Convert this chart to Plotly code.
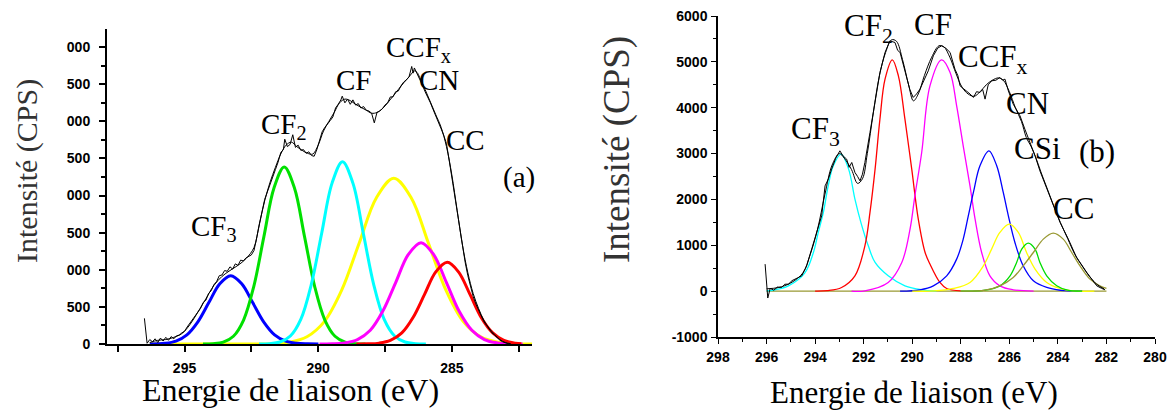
import plotly.graph_objects as go

W, H = 1171, 410
def px(x): return x / W
def py(y): return 1 - y / H

# ---------------- Panel (a) data ----------------
a_blue_x = [296.30, 295.73, 295.32, 294.91, 294.50, 294.09, 293.68, 293.27, 292.86, 292.45, 292.04, 291.63, 291.22, 290.81, 290.40, 289.99]
a_blue_y = [0, 10, 40, 124, 299, 558, 812, 920, 812, 558, 299, 124, 40, 10, 2, 0]
a_green_x = [294.31, 293.93, 293.55, 293.17, 292.79, 292.41, 292.03, 291.65, 291.27, 290.89, 290.51, 290.13, 289.75, 289.37, 288.99, 288.61, 288.23]
a_green_y = [1, 5, 26, 105, 323, 774, 1447, 2105, 2385, 2105, 1447, 774, 323, 105, 26, 5, 1]
a_cyan_x = [292.21, 291.82, 291.43, 291.04, 290.65, 290.26, 289.87, 289.48, 289.09, 288.70, 288.31, 287.92, 287.53, 287.14, 286.75, 286.36, 285.97]
a_cyan_y = [1, 5, 27, 108, 332, 798, 1490, 2168, 2457, 2168, 1490, 798, 332, 108, 27, 5, 1]
a_yellow_x = [296.30, 293.00, 292.37, 291.72, 291.07, 290.42, 289.77, 289.12, 288.47, 287.82, 287.17, 286.52, 285.87, 285.22, 284.57, 283.92, 283.27, 282.62, 281.97]
a_yellow_y = [0, 0, 1, 5, 25, 98, 302, 725, 1354, 1971, 2233, 1971, 1354, 725, 302, 98, 25, 5, 1]
a_magenta_x = [289.95, 289.48, 289.00, 288.53, 288.05, 287.58, 287.10, 286.63, 286.15, 285.68, 285.20, 284.73, 284.25, 283.78, 283.30, 282.83, 282.35]
a_magenta_y = [0, 3, 15, 60, 185, 444, 828, 1205, 1366, 1205, 828, 444, 185, 60, 15, 3, 0]
a_red_x = [288.57, 288.15, 287.72, 287.30, 286.87, 286.45, 286.02, 285.60, 285.17, 284.75, 284.32, 283.90, 283.47, 283.05, 282.62, 282.40]
a_red_y = [0, 2, 12, 48, 149, 357, 668, 972, 1101, 972, 668, 357, 149, 48, 12, 4]

a_data_x = [296.50, 296.40, 296.30, 296.20, 296.10, 296.00, 295.90, 295.80, 295.70, 295.60, 295.50, 295.40, 295.30, 295.20, 295.10, 295.00,
            294.90, 294.80, 294.70, 294.60, 294.50, 294.40, 294.30, 294.20, 294.10, 294.00, 293.90, 293.80, 293.70, 293.60, 293.50, 293.40,
            293.30, 293.20, 293.10, 293.00, 292.90, 292.80, 292.70, 292.60, 292.50, 292.40, 292.30, 292.20, 292.10, 292.00, 291.90, 291.80,
            291.70, 291.60, 291.50, 291.40, 291.30, 291.25, 291.15, 291.05, 290.95, 290.85, 290.75, 290.65, 290.55, 290.45, 290.35, 290.25,
            290.15, 290.05, 289.95, 289.85, 289.75, 289.65, 289.55, 289.45, 289.35, 289.25, 289.15, 289.10, 289.00, 288.90, 288.80, 288.70,
            288.60, 288.50, 288.40, 288.30, 288.20, 288.10, 288.00, 287.90, 287.80, 287.70, 287.60, 287.50, 287.40, 287.30, 287.20, 287.10,
            287.00, 286.90, 286.80, 286.70, 286.60, 286.50, 286.45, 286.40, 286.30, 286.20, 286.10, 286.00, 285.90, 285.80, 285.70, 285.60,
            285.50, 285.40, 285.30, 285.20, 285.10, 285.00, 284.90, 284.80, 284.70, 284.60, 284.50, 284.40, 284.30, 284.20, 284.10, 284.00,
            283.90, 283.80, 283.70, 283.60, 283.50, 283.40, 283.30, 283.20, 283.10, 283.00, 282.90, 282.80]
a_data_y = [346, 10, 60, 30, 70, 20, 80, 40, 90, 50, 100, 70, 110, 120, 150, 170,
            230, 280, 330, 380, 440, 480, 560, 590, 680, 720, 800, 840, 920, 930, 990, 980,
            1040, 1010, 1080, 1060, 1130, 1120, 1160, 1180, 1200, 1260, 1420, 1600, 1780, 1950, 2060, 2150,
            2250, 2350, 2450, 2580, 2620, 2760, 2660, 2690, 2820, 2650, 2680, 2610, 2620, 2570, 2590, 2540,
            2530, 2620, 2750, 2860, 2920, 2960, 3010, 3060, 3180, 3230, 3290, 3340, 3250, 3300, 3230, 3290,
            3220, 3240, 3180, 3200, 3150, 3140, 3110, 2980, 3120, 3140, 3170, 3220, 3250, 3330, 3330, 3400,
            3410, 3480, 3530, 3560, 3600, 3740, 3650, 3720, 3650, 3560, 3490, 3400, 3330, 3250, 3160, 3080,
            2990, 2900, 2810, 2700, 2480, 2250, 2000, 1750, 1520, 1300, 1100, 920, 770, 640, 540, 460,
            370, 300, 250, 200, 150, 120, 80, 50, 30, 15, 5, 0]

a_env_x = [296.3, 296.0, 295.7, 295.4, 295.1, 294.8, 294.5, 294.2, 293.9, 293.6, 293.3, 293.0, 292.7, 292.4, 292.2, 292.0, 291.8,
           291.6, 291.4, 291.2, 291.0, 290.8, 290.6, 290.4, 290.2, 290.0, 289.8, 289.6, 289.4, 289.2, 289.0, 288.8, 288.6, 288.4,
           288.2, 288.0, 287.8, 287.6, 287.4, 287.2, 287.0, 286.8, 286.6, 286.4, 286.3, 286.2, 286.0, 285.8, 285.6, 285.4, 285.2,
           285.0, 284.8, 284.6, 284.4, 284.2, 284.0, 283.8, 283.6, 283.4, 283.2, 283.0, 282.8]
a_env_y = [20, 50, 60, 90, 140, 260, 430, 610, 790, 910, 990, 1060, 1150, 1300, 1620, 1930, 2180,
           2380, 2560, 2680, 2720, 2660, 2610, 2570, 2560, 2680, 2870, 3000, 3120, 3250, 3300, 3280, 3230, 3190,
           3150, 3110, 3120, 3170, 3250, 3340, 3430, 3520, 3600, 3680, 3660, 3590, 3430, 3260, 3090, 2920, 2660,
           2280, 1800, 1330, 960, 680, 480, 320, 210, 130, 60, 20, 5]

a_xticks = [295, 290, 285]
a_xminor = [297.5, 292.5, 287.5, 282.5]
a_yticks = [0, 500, 1000, 1500, 2000, 2500, 3000, 3500, 4000]
a_ytext = ["0", "500", "000", "500", "000", "500", "000", "500", "000"]

# ---------------- Panel (b) data ----------------
b_base_x = [296.0, 282.0]
b_base_y = [0, 0]
b_cyan_x = [296.0, 295.65, 295.1, 294.42, 294.07, 293.87, 293.66, 293.46, 293.25, 292.93, 292.62, 292.36, 292.11, 291.81, 291.53, 290.99, 290.30, 289.61, 289.0]
b_cyan_y = [5, 30, 116, 400, 843, 1280, 1716, 2296, 2733, 2990, 2660, 2006, 1490, 988, 625, 334, 116, 30, 5]
b_red_x = [294.0, 293.5, 292.91, 292.36, 291.95, 291.74, 291.53, 291.33, 291.12, 290.82, 290.57, 290.30, 290.02, 289.75, 289.47, 289.27, 288.86, 288.58, 288.0]
b_red_y = [0, 10, 80, 334, 988, 1716, 2660, 3750, 4623, 5044, 4695, 3750, 2660, 1570, 843, 590, 190, 58, 5]
b_magenta_x = [292.5, 291.95, 290.99, 290.43, 290.09, 289.89, 289.61, 289.27, 288.79, 288.44, 288.17, 287.90, 287.62, 287.41, 287.14, 286.80, 286.39, 285.84, 285.0]
b_magenta_y = [0, 7, 190, 625, 1352, 2078, 3024, 4477, 5044, 4768, 4042, 3169, 2296, 1570, 843, 334, 116, 30, 0]
b_blue_x = [290.5, 289.68, 289.13, 288.58, 288.17, 287.90, 287.69, 287.48, 287.21, 286.84, 286.52, 286.25, 286.04, 285.77, 285.43, 285.01, 284.46, 283.9, 283.0]
b_blue_y = [0, 30, 116, 334, 698, 1134, 1642, 2152, 2733, 3060, 2733, 2152, 1642, 1062, 552, 225, 80, 20, 0]
b_yellow_x = [290.0, 289.1, 288.31, 287.62, 287.07, 286.73, 286.39, 286.0, 285.63, 285.29, 284.94, 284.46, 283.91, 283.4, 282.5]
b_yellow_y = [0, 5, 58, 190, 552, 916, 1280, 1461, 1280, 843, 480, 190, 58, 5, 0]
b_green_x = [288.0, 287.0, 286.39, 285.97, 285.70, 285.49, 285.22, 284.94, 284.74, 284.46, 284.05, 283.6, 283.0]
b_green_y = [0, 20, 116, 334, 625, 916, 1047, 916, 625, 334, 116, 20, 0]
b_olive_x = [288.0, 287.0, 286.39, 285.84, 285.43, 285.01, 284.60, 284.19, 283.78, 283.43, 283.09, 282.68, 282.27, 282.0]
b_olive_y = [0, 20, 116, 298, 552, 843, 1134, 1265, 1134, 843, 552, 262, 116, 60]

b_data_x = [296.06, 295.95, 295.85, 295.70, 295.55, 295.38, 295.25, 295.10, 294.95, 294.83, 294.70, 294.55, 294.35, 294.14, 293.93,
            293.73, 293.59, 293.45, 293.32, 293.15, 292.98, 292.85, 292.70, 292.60, 292.49, 292.36, 292.25, 292.15, 292.05, 291.95,
            291.74, 291.53, 291.33, 291.12, 290.92, 290.71, 290.60, 290.50, 290.23, 290.10, 289.96, 289.82, 289.68, 289.50, 289.34,
            289.13, 288.95, 288.79, 288.62, 288.44, 288.24, 288.12, 288.03, 287.90, 287.76, 287.62, 287.48, 287.35, 287.21, 287.10,
            287.00, 286.87, 286.73, 286.55, 286.39, 286.28, 286.18, 286.04, 285.84, 285.70, 285.56, 285.36, 285.15, 284.94, 284.74,
            284.53, 284.26, 283.91, 283.57, 283.23, 282.81, 282.60, 282.40, 282.20, 282.06]
b_data_y = [589, -150, 60, 20, 90, 80, 150, 153, 230, 262, 300, 334, 552, 916, 1280,
            1642, 2296, 2450, 2660, 2900, 3060, 2950, 2878, 2700, 2806, 2588, 2500, 2405, 2550, 2806,
            3460, 4115, 4768, 5205, 5458, 5422, 5250, 5205, 4695, 4400, 4224, 4300, 4405, 4620, 4804,
            5131, 5300, 5349, 5300, 5205, 4841, 4700, 4477, 4420, 4368, 4300, 4224, 4350, 4332, 4400,
            4187, 4500, 4586, 4600, 4660, 4600, 4623, 4368, 4077, 3950, 3823, 3533, 3242, 2950, 2623,
            2333, 1969, 1498, 1134, 735, 408, 250, 116, 60, 30]

b_env_x = [296.0, 295.5, 295.0, 294.5, 294.2, 293.9, 293.6, 293.3, 293.0, 292.8, 292.5, 292.25, 292.05, 291.85, 291.6, 291.35, 291.1,
           290.85, 290.65, 290.4, 290.15, 289.95, 289.75, 289.5, 289.2, 288.9, 288.7, 288.45, 288.2, 287.95, 287.7, 287.45, 287.2,
           286.95, 286.7, 286.45, 286.25, 286.0, 285.75, 285.5, 285.3, 285.1, 284.9, 284.7, 284.45, 284.2, 283.9, 283.6, 283.3,
           283.0, 282.7, 282.4, 282.1]
b_env_y = [50, 80, 180, 400, 800, 1350, 2100, 2750, 3000, 2900, 2650, 2350, 2450, 3000, 3900, 4700, 5200,
           5480, 5450, 5050, 4500, 4150, 4300, 4700, 5100, 5350, 5330, 5100, 4750, 4450, 4300, 4250, 4350,
           4500, 4600, 4650, 4600, 4350, 4000, 3700, 3350, 3150, 2900, 2600, 2250, 1900, 1500, 1150, 800,
           550, 320, 150, 50]

b_xticks = [298, 296, 294, 292, 290, 288, 286, 284, 282, 280]
b_xminor = [297, 295, 293, 291, 289, 287, 285, 283, 281]
b_yticks = [-1000, 0, 1000, 2000, 3000, 4000, 5000, 6000]
b_yminor = [-500, 500, 1500, 2500, 3500, 4500, 5500]

fig = go.Figure()

def add(xs, ys, color, width, xa, ya, shape='spline'):
    fig.add_trace(go.Scatter(x=xs, y=ys, mode='lines',
                             line=dict(color=color, width=width, shape=shape),
                             xaxis=xa, yaxis=ya, showlegend=False, hoverinfo='skip'))

# panel (a)
add(a_yellow_x, a_yellow_y, '#ffff00', 3, 'x', 'y')
add(a_blue_x, a_blue_y, '#0000ff', 3, 'x', 'y')
add(a_green_x, a_green_y, '#00e000', 3, 'x', 'y')
add(a_cyan_x, a_cyan_y, '#00ffff', 3, 'x', 'y')
add(a_magenta_x, a_magenta_y, '#ff00ff', 3, 'x', 'y')
add(a_red_x, a_red_y, '#ff0000', 3, 'x', 'y')
add(a_env_x, a_env_y, '#000000', 1, 'x', 'y')
add(a_data_x, a_data_y, '#000000', 1, 'x', 'y', 'linear')

# panel (b)
add(b_base_x, b_base_y, '#999933', 1.3, 'x2', 'y2', 'linear')
add(b_cyan_x, b_cyan_y, '#00ffff', 1.3, 'x2', 'y2')
add(b_red_x, b_red_y, '#ff0000', 1.3, 'x2', 'y2')
add(b_magenta_x, b_magenta_y, '#ff00ff', 1.3, 'x2', 'y2')
add(b_blue_x, b_blue_y, '#0000ff', 1.3, 'x2', 'y2')
add(b_yellow_x, b_yellow_y, '#ffff00', 1.3, 'x2', 'y2')
add(b_green_x, b_green_y, '#00dd00', 1.3, 'x2', 'y2')
add(b_olive_x, b_olive_y, '#999933', 1.3, 'x2', 'y2')
add(b_env_x, b_env_y, '#000000', 1, 'x2', 'y2')
add(b_data_x, b_data_y, '#000000', 1, 'x2', 'y2', 'linear')

tickfont = dict(family='Liberation Sans', size=14, color='black', weight='bold')
common = dict(showgrid=False, zeroline=False, showline=True, linecolor='black', automargin=False,
              ticks='outside', tickcolor='black', tickfont=tickfont)

fig.update_layout(
    width=W, height=H, margin=dict(l=0, r=0, t=0, b=0, autoexpand=False),
    paper_bgcolor='white', plot_bgcolor='white',
    xaxis=dict(domain=[px(107), px(532)], range=[297.9, 282.0], anchor='y',
               tickvals=a_xticks, ticktext=[str(v) for v in a_xticks], ticklen=6, tickwidth=1.5,
               linewidth=2, ticklabelstandoff=4,
               minor=dict(tickvals=a_xminor, ticklen=6, tickwidth=1.5, tickcolor='black', ticks='outside'),
               **common),
    yaxis=dict(domain=[py(344), py(29)], range=[0, 4245], anchor='x',
               tickvals=a_yticks, ticktext=a_ytext, ticklen=6, tickwidth=1.5, linewidth=2,
               ticklabelstandoff=6,
               minor=dict(tickvals=[v + 250 for v in a_yticks[:-1]], ticklen=4, tickwidth=1.5,
                          tickcolor='black', ticks='outside'),
               **common),
    xaxis2=dict(domain=[px(718), px(1155)], range=[298, 280], anchor='y2',
                tickvals=b_xticks, ticktext=[str(v) for v in b_xticks], ticklen=5, tickwidth=1.2,
                linewidth=1.5, ticklabelstandoff=1,
                minor=dict(tickvals=b_xminor, ticklen=3, tickwidth=1.2, tickcolor='black', ticks='outside'),
                **common),
    yaxis2=dict(domain=[py(337), py(16)], range=[-1000, 6000], anchor='x2',
                tickvals=b_yticks, ticktext=[str(v) for v in b_yticks], ticklen=5, tickwidth=1.2,
                linewidth=1.5, ticklabelstandoff=1,
                minor=dict(tickvals=b_yminor, ticklen=3, tickwidth=1.2, tickcolor='black', ticks='outside'),
                **common),
)

serif = 'Liberation Serif'
def label(text, x, y, size, xanchor='left', yanchor='middle', angle=0, color='black'):
    fig.add_annotation(text=text, x=px(x), y=py(y), xref='paper', yref='paper',
                       xanchor=xanchor, yanchor=yanchor, showarrow=False, textangle=angle,
                       font=dict(family=serif, size=size, color=color))

# panel (a) labels
label('CF<sub>3</sub>', 189, 228, 29)
label('CF<sub>2</sub>', 259, 126, 29)
label('CF', 334, 80, 29)
label('CCF<sub>x</sub>', 384, 49, 29)
label('CN', 417, 80, 29)
label('CC', 444, 140, 29)
label('(a)', 501, 178, 29)
# panel (b) labels
label('CF<sub>2</sub>', 842, 28, 31)
label('CF', 912, 24, 31)
label('CCF<sub>x</sub>', 956, 59, 31)
label('CN', 1004, 103, 31)
label('CF<sub>3</sub>', 789, 131, 31)
label('CSi', 1012, 148, 31)
label('(b)', 1077, 151, 31)
label('CC', 1051, 208, 31)

# axis titles
label('Intensité (CPS)', 27, 171, 30, xanchor='center', angle=-90, color='#333333')
label('Intensité (CPS)', 617, 150, 37, xanchor='center', angle=-90, color='#333333')
label('Energie de liaison (eV)', 290, 390, 32, xanchor='center')
label('Energie de liaison (eV)', 914, 392, 31, xanchor='center')

fig.write_html('out.html', config={'displayModeBar': False},
               post_script="document.body.style.margin='0px';document.body.style.overflow='hidden';")
